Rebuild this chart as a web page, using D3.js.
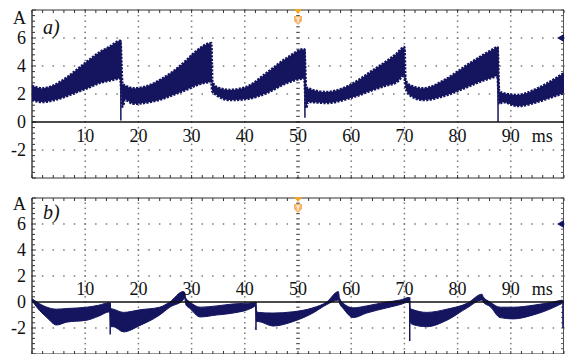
<!DOCTYPE html>
<html>
<head>
<meta charset="utf-8">
<script src="https://cdn.jsdelivr.net/npm/d3@7"></script>
<style>
  html, body { margin: 0; padding: 0; background: #fff; }
  svg { display: block; }
</style>
</head>
<body>
<svg id="chart" width="565" height="354" font-family="'Liberation Serif'"></svg>
<script>
// Panel a) time (ms), band upper / lower envelope (A)
const timeA  = [0, 2, 4, 6.6, 8.5, 10.3, 12.8, 14.5, 16.6,
                17.0, 17.5, 19, 22.2, 24.5, 26.5, 29, 31, 33.7,
                33.9, 34.7, 37.2, 40.3, 44.1, 47.9, 51.2,
                51.5, 51.9, 55.4, 59.8, 64.1, 66.5, 68.6, 70.0,
                70.2, 71, 73.5, 78, 81.8, 84, 86.7, 87.5,
                87.8, 88.5, 91.2, 95, 97.5, 100];
const upperA = [2.57, 2.4, 2.6, 3.2, 3.75, 4.3, 5.0, 5.35, 5.8,
                2.7, 2.6, 2.4, 2.64, 3.1, 3.6, 4.4, 5.1, 5.64,
                2.9, 2.5, 2.29, 2.5, 3.5, 4.57, 5.2,
                2.5, 2.4, 2.14, 2.64, 3.7, 4.3, 4.9, 5.36,
                3.0, 2.64, 2.4, 3.1, 4.07, 4.6, 5.2, 5.35,
                2.2, 2.07, 1.93, 2.4, 2.9, 3.5];
const lowerA = [1.57, 1.43, 1.55, 1.86, 2.15, 2.4, 2.8, 2.95, 3.1,
                1.1, 1.6, 1.3, 1.43, 1.65, 1.93, 2.3, 2.64, 2.86,
                2.2, 1.93, 1.57, 1.64, 2.07, 2.79, 3.1,
                1.0, 1.43, 1.36, 1.71, 2.29, 2.6, 2.86, 3.36,
                2.5, 1.93, 1.57, 1.93, 2.5, 2.85, 3.2, 3.3,
                1.3, 1.43, 1.14, 1.43, 1.75, 2.07];
const spikeTimeA   = [16.7, 51.3, 87.6];
const spikeTopA    = [5.8, 5.2, 5.35];
const spikeBottomA = [0.1, 0.3, 0.0];

// Panel b)
const timeB  = [0, 0.9, 2.8, 4.6, 6.5, 10.3, 12.5, 14.6,
                14.8, 15.3, 17.2, 20.3, 24, 25.9, 28.4, 28.7,
                28.9, 29.7, 31.6, 34.7, 37.8, 41.6, 42.0,
                42.2, 42.5, 45.3, 49.1, 52.8, 55.4, 57.6,
                57.8, 58.5, 60.4, 62.9, 66.7, 69.2, 70.9,
                71.1, 71.7, 74.2, 78, 81.8, 84.6,
                84.8, 86.1, 88, 90.5, 94.2, 97.9, 99.7];
const upperB = [0.25, 0.0, -0.4, -0.55, -0.5, -0.4, -0.25, -0.05,
                -0.5, -0.55, -0.8, -0.6, -0.4, 0.0, 0.8, 0.75,
                0.3, 0.0, -0.4, -0.3, -0.15, -0.05, 0.0,
                -0.7, -0.8, -0.85, -0.75, -0.45, 0.0, 0.8,
                0.3, -0.1, -0.45, -0.3, 0.0, 0.15, 0.35,
                -0.5, -0.6, -0.8, -0.55, -0.1, 0.6,
                0.4, 0.0, -0.4, -0.4, -0.25, 0.0, 0.15];
const lowerB = [0.1, -0.4, -1.2, -1.77, -1.55, -1.4, -1.1, -0.75,
                -1.9, -1.9, -2.3, -1.8, -1.0, -0.4, 0.15, 0.3,
                -0.2, -0.5, -1.15, -1.0, -0.85, -0.4, -0.3,
                -1.5, -1.5, -1.85, -1.5, -0.85, -0.2, 0.15,
                -0.1, -0.5, -1.2, -0.85, -0.45, -0.2, 0.0,
                -1.6, -1.75, -1.9, -1.4, -0.45, 0.15,
                0.0, -0.35, -1.2, -1.3, -1.0, -0.45, -0.1];
const spikeTimeB   = [14.7, 42.1, 71.0, 99.8];
const spikeTopB    = [-0.05, 0.0, 0.35, 0.15];
const spikeBottomB = [-2.5, -2.15, -3.0, -2.0];

const xTicks = [10, 20, 30, 40, 50, 60, 70, 80, 90];
const yTicks = [-2, 0, 2, 4, 6];
const yUnit = 'A';
const xUnit = 'ms';
const triggerTime = 50;
const channelLevel = 6;

const navy = '#14145f';
const svg = d3.select('#chart');

const x = d3.scaleLinear().domain([0, 100]).range([32, 564]);

function label(g) {
  return g.append('text')
    .attr('font-family', '"Liberation Serif"')
    .attr('font-size', 18)
    .attr('fill', '#111');
}

function drawPanel(p) {
  const y = d3.scaleLinear().domain([-4, 8]).range([p.bottom, p.top]);
  const g = svg.append('g');

  // dotted grid
  const minorT = d3.range(0, 100.01, 2);
  const minorV = d3.range(-4, 8.01, 0.4);
  [6, 4, 2, -2].forEach(v => {
    g.selectAll(null).data(minorT).enter().append('rect')
      .attr('x', d => x(d) - 0.75).attr('y', y(v) - 0.75)
      .attr('width', 1.5).attr('height', 1.5).attr('fill', '#7a7a7a');
  });
  xTicks.filter(t => t !== triggerTime).forEach(t => {
    g.selectAll(null).data(minorV).enter().append('rect')
      .attr('x', x(t) - 0.75).attr('y', d => y(d) - 0.75)
      .attr('width', 1.5).attr('height', 1.5).attr('fill', '#7a7a7a');
  });
  // center line at trigger is drawn as short dashes
  g.selectAll(null).data(minorV).enter().append('line')
    .attr('x1', x(triggerTime) - 1.8).attr('x2', x(triggerTime) + 1.8)
    .attr('y1', d => y(d)).attr('y2', d => y(d))
    .attr('stroke', '#555').attr('stroke-width', 1.2);

  // frame
  g.append('line').attr('x1', x(0)).attr('x2', x(100)).attr('y1', p.top).attr('y2', p.top)
    .attr('stroke', '#333').attr('stroke-width', 1.2);
  g.append('line').attr('x1', x(0)).attr('x2', x(100)).attr('y1', p.bottom).attr('y2', p.bottom)
    .attr('stroke', '#333').attr('stroke-width', 1.2);
  g.append('line').attr('x1', x(0)).attr('x2', x(0)).attr('y1', p.top).attr('y2', p.bottom)
    .attr('stroke', '#333').attr('stroke-width', 1.4);
  g.append('line').attr('x1', x(100) - 0.5).attr('x2', x(100) - 0.5).attr('y1', p.top).attr('y2', p.bottom)
    .attr('stroke', '#555').attr('stroke-width', 1);

  // frame ticks
  g.selectAll(null).data(minorT).enter().append('line')
    .attr('x1', d => x(d)).attr('x2', d => x(d))
    .attr('y1', p.top).attr('y2', p.top + 3)
    .attr('stroke', '#333');
  g.selectAll(null).data(minorT).enter().append('line')
    .attr('x1', d => x(d)).attr('x2', d => x(d))
    .attr('y1', p.bottom).attr('y2', p.bottom - 3)
    .attr('stroke', '#333');
  g.selectAll(null).data(minorV).enter().append('line')
    .attr('x1', x(0)).attr('x2', d => x(0) + (Math.abs(d % 2) < 0.01 ? 4 : 3))
    .attr('y1', d => y(d)).attr('y2', d => y(d))
    .attr('stroke', '#333');
  g.selectAll(null).data(minorV).enter().append('line')
    .attr('x1', x(100)).attr('x2', x(100) - 3)
    .attr('y1', d => y(d)).attr('y2', d => y(d))
    .attr('stroke', '#555');

  // waveform band
  const area = d3.area()
    .x((d, i) => x(p.time[i]))
    .y0((d, i) => y(p.lower[i]))
    .y1((d, i) => y(p.upper[i]))
    .curve(d3.curveMonotoneX);
  g.append('path').datum(p.time).attr('d', area).attr('fill', navy);

  const edge = d3.line().x((d, i) => x(p.time[i])).y(d => y(d)).curve(d3.curveMonotoneX);
  [p.upper, p.lower].forEach(arr => {
    const path = g.append('path').datum(arr).attr('d', edge)
      .attr('fill', 'none').attr('stroke', navy);
    if (p.jagged) path.attr('stroke-width', 2.6).attr('stroke-dasharray', '2.2 1.3');
    else path.attr('stroke-width', 1);
  });

  // switching spikes
  g.selectAll(null).data(p.spikeTime).enter().append('line')
    .attr('x1', d => x(d)).attr('x2', d => x(d))
    .attr('y1', (d, i) => y(p.spikeTop[i])).attr('y2', (d, i) => y(p.spikeBottom[i]))
    .attr('stroke', navy).attr('stroke-width', 1.5);

  // zero line
  g.append('line').attr('x1', x(0)).attr('x2', x(100)).attr('y1', y(0)).attr('y2', y(0))
    .attr('stroke', '#111').attr('stroke-width', 1.3);

  // y labels
  yTicks.forEach(v => {
    label(g).attr('x', 26).attr('y', y(v)).attr('dy', '0.35em')
      .attr('text-anchor', 'end').text(v);
  });
  label(g).attr('x', 26).attr('y', p.top + p.unitDy).attr('text-anchor', 'end').text(yUnit);

  // x labels
  xTicks.forEach(t => {
    label(g).attr('x', x(t)).attr('y', y(0) + p.xLabelDy)
      .attr('text-anchor', 'middle').text(t);
  });
  label(g).attr('x', x(90) + 21).attr('y', y(0) + p.xLabelDy).text(xUnit);

  // panel letter
  label(g).attr('x', 43).attr('y', p.top + p.letterDy)
    .attr('font-size', 20).attr('font-style', 'italic').text(p.label);

  // trigger marker
  const tx = x(triggerTime);
  g.append('path')
    .attr('d', `M${tx - 4},${p.top - 1}L${tx + 4},${p.top - 1}L${tx},${p.top + 4}Z`)
    .attr('fill', '#f5a623');
  g.append('path')
    .attr('d', `M${tx - 4},${p.top + 6}L${tx + 4},${p.top + 6}L${tx + 4},${p.top + 11}L${tx},${p.top + 15}L${tx - 4},${p.top + 11}Z`)
    .attr('fill', '#f6b36a');
  g.append('path')
    .attr('d', `M${tx - 2.2},${p.top + 8}L${tx + 2.2},${p.top + 8}M${tx},${p.top + 8}L${tx},${p.top + 12.5}`)
    .attr('stroke', '#fff').attr('stroke-width', 1.2);

  // channel marker
  const cy = y(channelLevel);
  g.append('path')
    .attr('d', `M${x(100) - 7},${cy}L${x(100)},${cy - 4}L${x(100)},${cy + 4}Z`)
    .attr('fill', navy);
}

drawPanel({
  top: 10, bottom: 178, label: 'a)', xLabelDy: 20, unitDy: 14, letterDy: 24, jagged: true,
  time: timeA, upper: upperA, lower: lowerA,
  spikeTime: spikeTimeA, spikeTop: spikeTopA, spikeBottom: spikeBottomA
});
drawPanel({
  top: 198, bottom: 354, label: 'b)', xLabelDy: -7, unitDy: 12, letterDy: 21, jagged: false,
  time: timeB, upper: upperB, lower: lowerB,
  spikeTime: spikeTimeB, spikeTop: spikeTopB, spikeBottom: spikeBottomB
});
</script>
</body>
</html>
